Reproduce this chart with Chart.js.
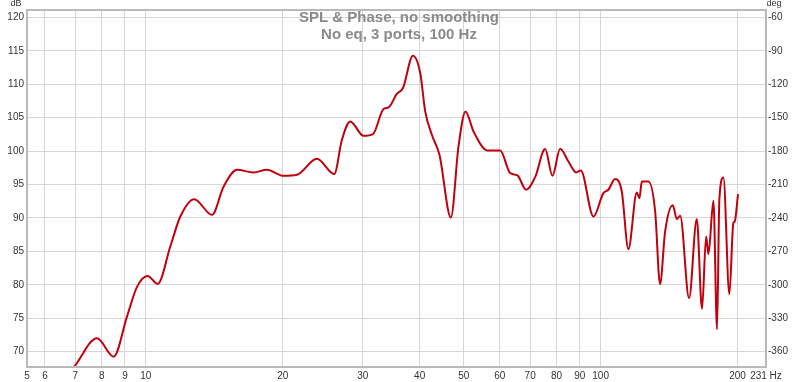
<!DOCTYPE html>
<html>
<head>
<meta charset="utf-8">
<script src="https://cdn.jsdelivr.net/npm/chart.js@4"></script>
<style>
  html, body { margin: 0; padding: 0; background: #fff; }
  #wrap { width: 800px; height: 382px; }
</style>
</head>
<body>
<div id="wrap"><canvas id="splChart" width="800" height="382"></canvas></div>
<script>
// Data
//==============================
var freqs = [6.7, 6.96, 7.81, 8.5, 9.09, 9.57, 10.09, 10.62, 11.32, 11.91, 12.78, 13.98, 14.83, 15.87,
  17.25, 18.46, 20.09, 21.49, 23.78, 25.96, 26.99, 28.15, 30.11, 31.58, 33.32, 34.18, 35.66, 36.76,
  38.66, 40.12, 41.15, 42.57, 44.22, 46.86, 48.7, 50.46, 52.54, 56.38, 60.13, 63.25, 65.63, 68.59,
  71.79, 75.51, 78.36, 81.47, 84.96, 88.34, 90.46, 96.43, 101.4, 104.0, 107.6, 111.3, 115.1, 120.1,
  121.7, 123.2, 127.4, 131.8, 135.1, 138.6, 144.1, 147.1, 149.6, 156.5, 162.7, 167.1, 170.6, 172.6,
  177.0, 180.3, 182.4, 186.2, 191.9, 195.8, 197.2, 200.5];
var spl = [66.5, 67.75, 72.0, 69.25, 75.24, 79.73, 81.33, 80.13, 85.72, 90.21, 92.81, 90.46, 94.7, 97.2,
  96.8, 97.2, 96.3, 96.45, 98.85, 96.56, 101.69, 104.43, 102.29, 102.54, 106.29, 106.53, 108.58, 109.43,
  114.27, 111.68, 105.93, 102.4, 99.45, 90.06, 100.69, 105.93, 102.93, 100.09, 100.09, 96.71, 96.35, 94.21,
  96.11, 100.3, 96.3, 100.34, 98.44, 96.8, 97.1, 90.21, 93.71, 94.21, 95.81, 93.95, 85.33, 93.8,
  92.96, 95.45, 95.45, 90.96, 80.09, 87.96, 91.9, 89.82, 90.31, 77.99, 89.82, 76.39, 87.22, 84.58,
  92.56, 73.35, 92.71, 96.05, 78.59, 89.22, 89.46, 93.56];

var xTicks = [5.48, 6, 7, 8, 9, 10, 20, 30, 40, 50, 60, 70, 80, 90, 100, 200, 231];
var xTickLabels = ["5", "6", "7", "8", "9", "10", "20", "30", "40", "50", "60", "70", "80", "90", "100", "200", "231 Hz"];
var dbTicks = [70, 75, 80, 85, 90, 95, 100, 105, 110, 115, 120];
var degTicks = [-360, -330, -300, -270, -240, -210, -180, -150, -120, -90, -60];

var titleLines = ["SPL & Phase, no smoothing", "No eq, 3 ports, 100 Hz"];

// Plugins
//==============================
var rewDecor = {
  id: "rewDecor",
  beforeDatasetsDraw: function (chart) {
    var ctx = chart.ctx;
    ctx.save();
    ctx.fillStyle = "#8a8a8a";
    ctx.font = "bold 15px 'Liberation Sans', Arial, sans-serif";
    ctx.textAlign = "center";
    ctx.textBaseline = "middle";
    ctx.fillText(titleLines[0], 399, 18);
    ctx.fillText(titleLines[1], 399, 35);
    ctx.restore();
  },
  afterDraw: function (chart) {
    var ctx = chart.ctx;
    var area = chart.chartArea;
    ctx.save();
    ctx.strokeStyle = "#b9b9b9";
    ctx.lineWidth = 2;
    ctx.strokeRect(area.left, area.top, area.right - area.left, area.bottom - area.top);
    ctx.fillStyle = "#333";
    ctx.font = "9px 'Liberation Sans', Arial, sans-serif";
    ctx.textBaseline = "middle";
    ctx.textAlign = "center";
    ctx.fillText("dB", 16, 4);
    ctx.fillText("deg", 774, 4);
    ctx.restore();
  }
};

// Chart
//==============================
var tickFont = { family: "'Liberation Sans', Arial, sans-serif", size: 10 };
var ctx = document.getElementById("splChart");
var splChart = new Chart(ctx, {
  type: "line",
  data: {
    datasets: [{
      label: "SPL",
      data: freqs.map(function (f, i) { return { x: f, y: spl[i] }; }),
      borderColor: "#c0000c",
      borderWidth: 2,
      pointRadius: 0,
      fill: false,
      cubicInterpolationMode: "monotone"
    }]
  },
  options: {
    responsive: false,
    animation: false,
    devicePixelRatio: 1,
    layout: { padding: { top: 10, left: 0, right: 0, bottom: 0 } },
    plugins: {
      legend: { display: false },
      tooltip: { enabled: false }
    },
    scales: {
      x: {
        type: "logarithmic",
        min: 5.48,
        max: 231,
        afterBuildTicks: function (scale) {
          scale.ticks = xTicks.map(function (v) { return { value: v }; });
        },
        afterFit: function (scale) { scale.height = 15; },
        grid: { color: "#d6d6d6", drawTicks: false },
        border: { display: false },
        ticks: {
          autoSkip: false,
          maxRotation: 0,
          padding: 3,
          color: "#333",
          font: tickFont,
          callback: function (value, index) { return xTickLabels[index]; }
        }
      },
      y: {
        position: "left",
        min: 67.7,
        max: 121.1,
        afterBuildTicks: function (scale) {
          scale.ticks = dbTicks.map(function (v) { return { value: v }; });
        },
        afterFit: function (scale) { scale.width = 27; },
        grid: { color: "#d6d6d6", drawTicks: false },
        border: { display: false },
        ticks: { padding: 3, color: "#333", font: tickFont }
      },
      y2: {
        position: "right",
        min: -373.8,
        max: -53.4,
        afterBuildTicks: function (scale) {
          scale.ticks = degTicks.map(function (v) { return { value: v }; });
        },
        afterFit: function (scale) { scale.width = 34; },
        grid: { display: false, drawTicks: false },
        border: { display: false },
        ticks: { padding: 2, color: "#333", font: tickFont }
      }
    }
  },
  plugins: [rewDecor]
});
</script>
</body>
</html>
